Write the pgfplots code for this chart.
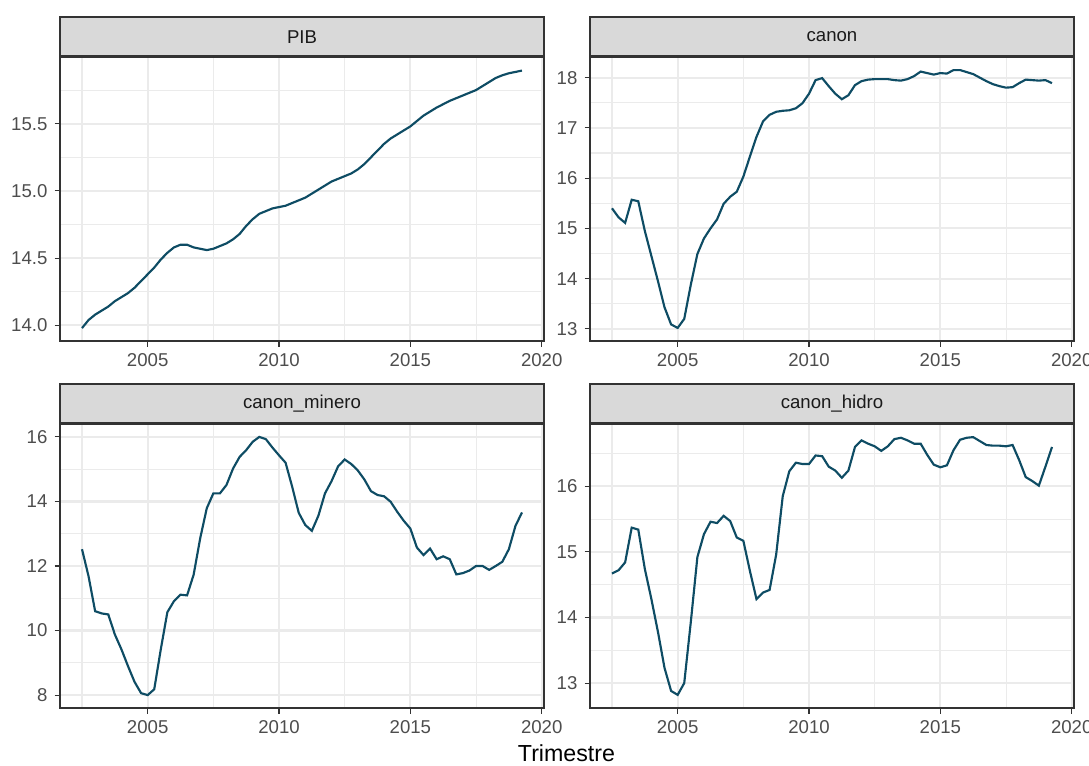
\documentclass[border=0pt]{standalone}
\usepackage{fontspec}
\setmainfont{Liberation Sans}
\usepackage{pgfplots}
\pgfplotsset{compat=1.18}

\definecolor{linecol}{HTML}{0E4C64}
\definecolor{gridcol}{HTML}{EBEBEB}
\definecolor{framecol}{HTML}{333333}
\definecolor{stripcol}{HTML}{D9D9D9}
\definecolor{tickcol}{HTML}{4D4D4D}
\definecolor{striptext}{HTML}{1A1A1A}

% quarterly series, 2002Q3 -- 2019Q2
\pgfplotstableread{
t y
2002.50 13.98
2002.75 14.04
2003.00 14.08
2003.25 14.11
2003.50 14.14
2003.75 14.18
2004.00 14.21
2004.25 14.24
2004.50 14.28
2004.75 14.33
2005.00 14.38
2005.25 14.43
2005.50 14.49
2005.75 14.54
2006.00 14.58
2006.25 14.60
2006.50 14.60
2006.75 14.58
2007.00 14.57
2007.25 14.56
2007.50 14.57
2007.75 14.59
2008.00 14.61
2008.25 14.64
2008.50 14.68
2008.75 14.74
2009.00 14.79
2009.25 14.83
2009.50 14.85
2009.75 14.87
2010.00 14.88
2010.25 14.89
2010.50 14.91
2010.75 14.93
2011.00 14.95
2011.25 14.98
2011.50 15.01
2011.75 15.04
2012.00 15.07
2012.25 15.09
2012.50 15.11
2012.75 15.13
2013.00 15.16
2013.25 15.20
2013.50 15.25
2013.75 15.30
2014.00 15.35
2014.25 15.39
2014.50 15.42
2014.75 15.45
2015.00 15.48
2015.25 15.52
2015.50 15.56
2015.75 15.59
2016.00 15.62
2016.25 15.645
2016.50 15.67
2016.75 15.69
2017.00 15.71
2017.25 15.73
2017.50 15.75
2017.75 15.78
2018.00 15.81
2018.25 15.84
2018.50 15.86
2018.75 15.875
2019.00 15.885
2019.25 15.895
}\pib

\pgfplotstableread{
t y
2002.50 15.40
2002.75 15.22
2003.00 15.11
2003.25 15.57
2003.50 15.54
2003.75 14.95
2004.00 14.45
2004.25 13.95
2004.50 13.43
2004.75 13.09
2005.00 13.02
2005.25 13.20
2005.50 13.88
2005.75 14.49
2006.00 14.80
2006.25 15.00
2006.50 15.18
2006.75 15.49
2007.00 15.63
2007.25 15.73
2007.50 16.03
2007.75 16.43
2008.00 16.82
2008.25 17.13
2008.50 17.26
2008.75 17.32
2009.00 17.34
2009.25 17.35
2009.50 17.39
2009.75 17.49
2010.00 17.68
2010.25 17.95
2010.50 17.99
2010.75 17.83
2011.00 17.68
2011.25 17.57
2011.50 17.65
2011.75 17.85
2012.00 17.93
2012.25 17.96
2012.50 17.97
2012.75 17.97
2013.00 17.97
2013.25 17.95
2013.50 17.94
2013.75 17.97
2014.00 18.03
2014.25 18.12
2014.50 18.09
2014.75 18.06
2015.00 18.09
2015.25 18.08
2015.50 18.15
2015.75 18.15
2016.00 18.11
2016.25 18.07
2016.50 18.00
2016.75 17.93
2017.00 17.87
2017.25 17.83
2017.50 17.80
2017.75 17.81
2018.00 17.89
2018.25 17.96
2018.50 17.95
2018.75 17.94
2019.00 17.95
2019.25 17.89
}\canon

\pgfplotstableread{
t y
2002.50 12.52
2002.75 11.68
2003.00 10.60
2003.25 10.53
2003.50 10.50
2003.75 9.88
2004.00 9.42
2004.25 8.90
2004.50 8.41
2004.75 8.06
2005.00 8.00
2005.25 8.18
2005.50 9.42
2005.75 10.57
2006.00 10.91
2006.25 11.11
2006.50 11.09
2006.75 11.73
2007.00 12.86
2007.25 13.79
2007.50 14.25
2007.75 14.25
2008.00 14.51
2008.25 15.02
2008.50 15.38
2008.75 15.59
2009.00 15.85
2009.25 16.00
2009.50 15.93
2009.75 15.67
2010.00 15.43
2010.25 15.20
2010.50 14.46
2010.75 13.65
2011.00 13.27
2011.25 13.09
2011.50 13.56
2011.75 14.25
2012.00 14.63
2012.25 15.09
2012.50 15.30
2012.75 15.16
2013.00 14.96
2013.25 14.68
2013.50 14.32
2013.75 14.20
2014.00 14.16
2014.25 13.99
2014.50 13.68
2014.75 13.40
2015.00 13.16
2015.25 12.57
2015.50 12.34
2015.75 12.54
2016.00 12.21
2016.25 12.30
2016.50 12.21
2016.75 11.74
2017.00 11.78
2017.25 11.86
2017.50 12.00
2017.75 12.00
2018.00 11.88
2018.25 12.00
2018.50 12.13
2018.75 12.52
2019.00 13.24
2019.25 13.66
}\minero

\pgfplotstableread{
t y
2002.50 14.67
2002.75 14.72
2003.00 14.84
2003.25 15.37
2003.50 15.34
2003.75 14.74
2004.00 14.28
2004.25 13.78
2004.50 13.23
2004.75 12.88
2005.00 12.82
2005.25 13.00
2005.50 13.93
2005.75 14.92
2006.00 15.27
2006.25 15.46
2006.50 15.44
2006.75 15.55
2007.00 15.47
2007.25 15.22
2007.50 15.17
2007.75 14.71
2008.00 14.28
2008.25 14.38
2008.50 14.42
2008.75 14.96
2009.00 15.85
2009.25 16.23
2009.50 16.36
2009.75 16.34
2010.00 16.34
2010.25 16.47
2010.50 16.46
2010.75 16.30
2011.00 16.24
2011.25 16.13
2011.50 16.24
2011.75 16.60
2012.00 16.70
2012.25 16.65
2012.50 16.61
2012.75 16.54
2013.00 16.61
2013.25 16.72
2013.50 16.74
2013.75 16.70
2014.00 16.65
2014.25 16.65
2014.50 16.48
2014.75 16.33
2015.00 16.29
2015.25 16.32
2015.50 16.55
2015.75 16.71
2016.00 16.74
2016.25 16.75
2016.50 16.69
2016.75 16.63
2017.00 16.62
2017.25 16.62
2017.50 16.61
2017.75 16.63
2018.00 16.40
2018.25 16.14
2018.50 16.08
2018.75 16.01
2019.00 16.30
2019.25 16.60
}\hidro

\pgfplotsset{
  facet/.style={
    scale only axis,
    width=242pt, height=142pt,
    xmin=2001.6625, xmax=2020.0875,
    xtick={2005,2010,2015,2020},
    minor xtick={2002.5,2007.5,2012.5,2017.5},
    axis line style={framecol, line width=0.8pt},
    grid=both,
    major grid style={gridcol, line width=1.07pt},
    minor grid style={gridcol, line width=0.53pt},
    tick align=outside,
    xtick pos=bottom, ytick pos=left,
    major tick length=2.75pt,
    minor tick length=0pt,
    tick style={framecol, line width=0.53pt},
    /pgf/number format/assume math mode=true,
    ticklabel style={font=\fontsize{9.3}{11}\selectfont, text=tickcol},
    x tick label style={/pgf/number format/1000 sep={}},
    every axis title shift=0pt,
    title style={at={(0.5,1)}, anchor=south, yshift=0pt,
      fill=stripcol, draw=framecol, line width=0.8pt,
      minimum width=242pt, minimum height=19.5pt, inner sep=0pt,
      font=\fontsize{9.3}{11}\selectfont, text=striptext},
  },
  serie/.style={linecol, line width=1.07pt, mark=none},
}

\begin{document}
\begin{tikzpicture}
\useasboundingbox (0,0) rectangle (544.5pt,-383pt);

\begin{axis}[facet, at={(30pt,-28.5pt)}, anchor=north west,
  title={PIB},
  ymin=13.884, ymax=15.996,
  ytick={14,14.5,15,15.5}, minor ytick={14.25,14.75,15.25,15.75},
  y tick label style={/pgf/number format/.cd, fixed, fixed zerofill, precision=1}]
  \addplot[serie] table[x=t,y=y] {\pib};
\end{axis}

\begin{axis}[facet, at={(295pt,-28.5pt)}, anchor=north west,
  title={canon},
  ymin=12.76, ymax=18.41,
  ytick={13,14,15,16,17,18}, minor ytick={12.5,13.5,14.5,15.5,16.5,17.5}]
  \addplot[serie] table[x=t,y=y] {\canon};
\end{axis}

\begin{axis}[facet, at={(30pt,-212pt)}, anchor=north west,
  title={canon\_minero},
  ymin=7.6, ymax=16.4,
  ytick={8,10,12,14,16}, minor ytick={9,11,13,15}]
  \addplot[serie] table[x=t,y=y] {\minero};
\end{axis}

\begin{axis}[facet, at={(295pt,-212pt)}, anchor=north west,
  title={canon\_hidro},
  ymin=12.62, ymax=16.95,
  ytick={13,14,15,16}, minor ytick={13.5,14.5,15.5,16.5}]
  \addplot[serie] table[x=t,y=y] {\hidro};
\end{axis}

\node[font=\fontsize{11.6}{13}\selectfont] at (283.25pt,-376.5pt) {Trimestre};
\end{tikzpicture}
\end{document}
